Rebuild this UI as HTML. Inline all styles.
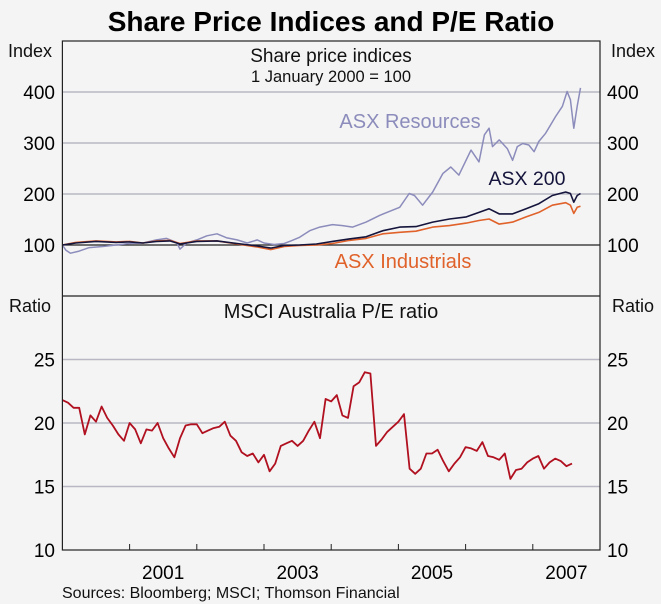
<!DOCTYPE html>
<html><head><meta charset="utf-8"><style>
html,body{margin:0;padding:0;background:#f4f4f4;}
svg{display:block;font-family:"Liberation Sans",sans-serif;}
</style></head><body>
<svg id="c" width="661" height="604">
<text x="331" y="31" text-anchor="middle" font-size="28" font-weight="bold">Share Price Indices and P/E Ratio</text>
</svg>
<script>
const pYears=[];for(let i=0;i<92;i++)pYears.push(2000+i/12);
const peVals=[21.8,21.6,21.2,21.2,19.1,20.6,20.1,21.3,20.4,19.8,19.1,18.6,20.0,19.5,18.4,19.5,19.4,20.0,18.8,18.0,17.3,18.8,19.8,19.9,19.9,19.2,19.4,19.6,19.7,20.1,19.0,18.6,17.7,17.4,17.6,16.9,17.5,16.2,16.8,18.2,18.4,18.6,18.2,18.6,19.4,20.1,18.8,21.9,21.7,22.2,20.6,20.4,22.9,23.2,24.0,23.9,18.2,18.7,19.3,19.7,20.1,20.7,16.4,16.0,16.4,17.6,17.6,17.9,17.0,16.2,16.8,17.3,18.1,18.0,17.8,18.5,17.4,17.3,17.1,17.6,15.6,16.3,16.4,16.9,17.2,17.4,16.4,16.9,17.2,17.0,16.6,16.8];
const resYears=[2000,2000.05,2000.12,2000.25,2000.4,2000.6,2000.8,2001,2001.2,2001.4,2001.55,2001.7,2001.75,2001.85,2002,2002.15,2002.3,2002.45,2002.6,2002.75,2002.9,2003,2003.15,2003.3,2003.4,2003.53,2003.68,2003.83,2004.02,2004.17,2004.32,2004.52,2004.72,2004.87,2005.02,2005.16,2005.24,2005.36,2005.51,2005.66,2005.78,2005.9,2006.08,2006.2,2006.28,2006.35,2006.4,2006.5,2006.62,2006.7,2006.77,2006.85,2006.94,2007.02,2007.09,2007.19,2007.34,2007.44,2007.51,2007.56,2007.61,2007.66,2007.71];
const resVals=[100,90,84,88,95,97,100,103,104,110,113,105,92,104,110,118,122,114,110,104,110,104,101,103,108,115,128,135,140,138,135,145,158,166,174,201,197,178,204,240,253,237,286,263,316,329,293,306,289,266,293,299,296,283,303,319,352,372,401,385,329,372,408];
const idxYears=[2000,2000.2,2000.5,2000.8,2001,2001.2,2001.4,2001.6,2001.75,2002,2002.3,2002.6,2002.9,2003.1,2003.3,2003.53,2003.78,2004.02,2004.27,2004.52,2004.77,2005.02,2005.26,2005.51,2005.76,2006.01,2006.2,2006.35,2006.5,2006.7,2006.9,2007.09,2007.29,2007.49,2007.56,2007.61,2007.66,2007.71];
const asx200Vals=[100,104,107,105,106,104,107,108,102,107,108,103,98,94,99,100,102,107,112,116,128,135,136,145,151,155,164,171,161,161,171,181,197,204,201,184,197,201];
const indVals=[100,105,108,106,107,104,108,109,103,108,108,102,96,91,97,99,100,103,109,113,122,125,127,135,138,143,148,151,141,145,155,164,178,183,178,162,174,176];
const topTicks=[100,200,300,400];
const botTicks=[10,15,20,25];
const yearLabels=[2001,2003,2005,2007];

const NS='http://www.w3.org/2000/svg',svg=document.getElementById('c');
function mk(t,a,txt){const e=document.createElementNS(NS,t);for(const k in a)e.setAttribute(k,a[k]);if(txt!==undefined)e.textContent=txt;svg.appendChild(e);return e;}
const L=62.4,R=600,T=41,M=296,B=550;
const X=y=>L+(y-2000)/8*(R-L);
const YT=v=>M-v/500*(M-T);
const YB=v=>B-(v-10)/20*(B-M);
let e;
topTicks.forEach(v=>{
 e=mk('line',{x1:L,x2:R,y1:YT(v),y2:YT(v),stroke:v==100?'#222':'#b8b8c4','stroke-width':v==100?1.2:1.5});
 
 e=mk('text',{x:55,y:YT(v)+7,'text-anchor':'end','font-size':19},v);
 
 e=mk('text',{x:607,y:YT(v)+7,'font-size':19},v);
 
});
botTicks.forEach(v=>{
 if(v>10){e=mk('line',{x1:L,x2:R,y1:YB(v),y2:YB(v),stroke:'#b8b8c4','stroke-width':1.5});
 }
 e=mk('text',{x:55,y:YB(v)+7,'text-anchor':'end','font-size':19},v);
 
 e=mk('text',{x:607,y:YB(v)+7,'font-size':19},v);
 
});
for(let y=2001;y<=2007;y++){
 e=mk('line',{x1:X(y),x2:X(y),y1:B,y2:B-6,stroke:'#222','stroke-width':1});
 
}
yearLabels.forEach(y=>{
 e=mk('text',{x:X(y+0.5),y:579,'text-anchor':'middle','font-size':19},y);
 
});
function line(xs,vs,f,col,w,name){
 const d=xs.map((x,i)=>(i?'L':'M')+X(x).toFixed(1)+','+f(vs[i]).toFixed(1)).join(' ');
 const p=mk('path',{d:d,fill:'none',stroke:col,'stroke-width':w,'stroke-linejoin':'round'});
 
}
line(resYears,resVals,YT,'#8c8cbc',1.5,'asx-resources-line');
line(idxYears,indVals,YT,'#e0622a',1.6,'asx-industrials-line');
line(idxYears,asx200Vals,YT,'#14143c',1.6,'asx-200-line');
line(pYears,peVals,YB,'#b0101f',1.8,'pe-ratio-line');
e=mk('rect',{x:L,y:T,width:R-L,height:B-T,fill:'none',stroke:'#222','stroke-width':1.2});

e=mk('line',{x1:L,x2:R,y1:M,y2:M,stroke:'#222','stroke-width':1.2});

const texts=[
 [30,57,'middle',18,'#111','Index','top-left-unit'],
 [633,57,'middle',18,'#111','Index','top-right-unit'],
 [30,312,'middle',18,'#111','Ratio','bottom-left-unit'],
 [633,312,'middle',18,'#111','Ratio','bottom-right-unit'],
 [331,62,'middle',19,'#111','Share price indices','top-panel-title'],
 [331,82,'middle',16.5,'#111','1 January 2000 = 100','top-panel-subtitle'],
 [410,128,'middle',20,'#8c8cbc','ASX Resources','asx-resources-label'],
 [527,185,'middle',19.5,'#14143c','ASX 200','asx-200-label'],
 [403,268,'middle',20,'#e0622a','ASX Industrials','asx-industrials-label'],
 [331,318,'middle',20,'#111','MSCI Australia P/E ratio','bottom-panel-title'],
 [62,598,'start',16,'#111','Sources: Bloomberg; MSCI; Thomson Financial','sources-note']
];
texts.forEach(t=>{
 const el=mk('text',{x:t[0],y:t[1],'text-anchor':t[2],'font-size':t[3],fill:t[4]},t[5]);
 
 
});
</script>
</body></html>
